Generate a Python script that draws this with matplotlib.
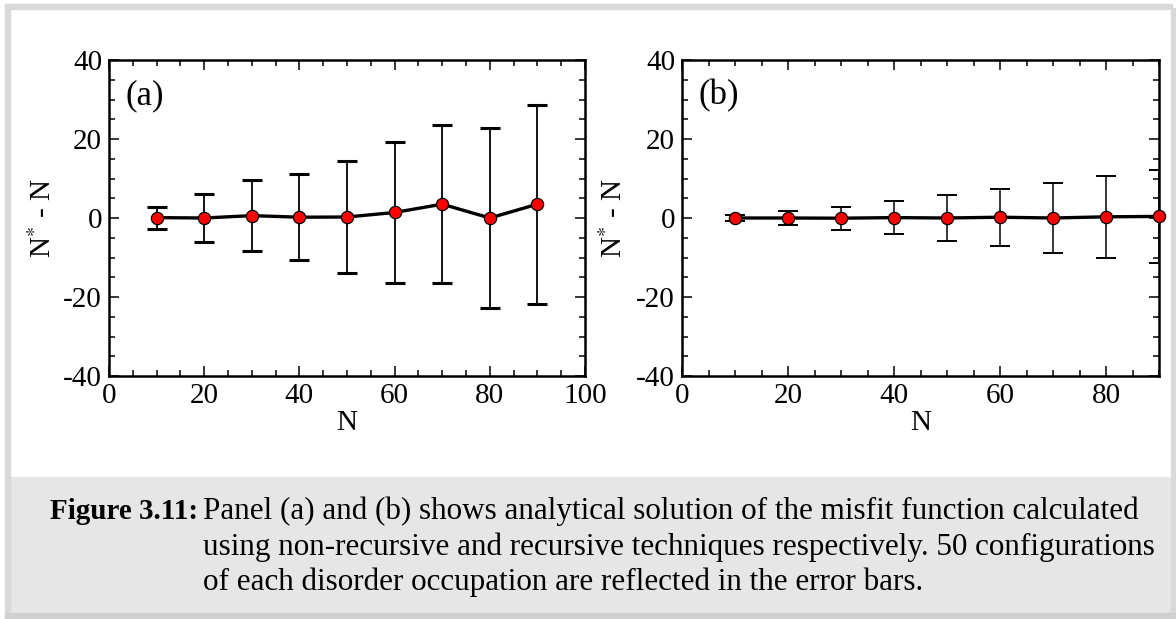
import matplotlib
matplotlib.use("Agg")
import matplotlib.pyplot as plt
from matplotlib.patches import Rectangle
from matplotlib.ticker import MultipleLocator

# values
n_vals = [10, 20, 30, 40, 50, 60, 70, 80, 90]
misfit_a = [0.1, 0.0, 0.6, 0.2, 0.25, 1.4, 3.5, 0.0, 3.5]
err_a = [2.8, 6.0, 8.9, 10.9, 14.1, 17.9, 20.0, 22.8, 25.2]
misfit_b = [0.0, 0.0, -0.05, 0.1, 0.0, 0.2, 0.0, 0.3, 0.4]
err_b = [0.7, 1.7, 2.9, 4.2, 5.8, 7.2, 8.85, 10.3, 11.7]

panel_labels = ["(a)", "(b)"]
xlims = [(0, 100), (0, 90)]
caption_head = "Figure 3.11:"
caption_lines = [
    "Panel (a) and (b) shows analytical solution of the misfit function calculated",
    "using non-recursive and recursive techniques respectively. 50 configurations",
    "of each disorder occupation are reflected in the error bars.",
]

plt.rcParams["font.family"] = ["Liberation Serif", "DejaVu Serif"]
plt.rcParams["mathtext.fontset"] = "stix"
plt.rcParams["axes.unicode_minus"] = False

W, H = 1176, 619
fig = plt.figure(figsize=(W / 100, H / 100), dpi=100)


def fx(px):
    return px / W


def fy(py):
    return 1 - py / H


# frame and caption box
fig.patches.append(Rectangle((fx(10), fy(613)), fx(1161), (613 - 477) / H,
                             transform=fig.transFigure, color="#e6e6e6", zorder=0))
for x0, y0, x1, y1, c in [(5, 4, 1172, 9, "#d9d9d9"), (5, 4, 10, 619, "#d9d9d9"),
                          (1171, 8, 1176, 619, "#d9d9d9"), (5, 613, 1176, 619, "#d0d0d0")]:
    fig.patches.append(Rectangle((fx(x0), fy(y1)), fx(x1 - x0), (y1 - y0) / H,
                                 transform=fig.transFigure, color=c, zorder=0))

ax_a = fig.add_axes([fx(109), fy(376), fx(585 - 109), (376 - 60) / H])
ax_b = fig.add_axes([fx(682), fy(376), fx(1159 - 682), (376 - 60) / H])

styles = [dict(elinewidth=1.3, capthick=2.2), dict(elinewidth=1.1, capthick=1.4)]
label_x = [-0.11, -0.113]
for ax, y, e, lab, xl, st, lx in zip([ax_a, ax_b], [misfit_a, misfit_b], [err_a, err_b],
                                     panel_labels, xlims, styles, label_x):
    ax.errorbar(n_vals, y, yerr=e, fmt="none", ecolor="black", capsize=7, zorder=2, **st)
    ax.plot(n_vals, y, color="black", lw=2.4, zorder=3)
    ax.plot(n_vals, y, "o", ms=8.8, mfc="#ff0000", mec="black", mew=0.9,
            zorder=4, clip_on=False)
    ax.set_xlim(*xl)
    ax.set_ylim(-40, 40)
    ax.xaxis.set_major_locator(MultipleLocator(20))
    ax.xaxis.set_minor_locator(MultipleLocator(5))
    ax.yaxis.set_major_locator(MultipleLocator(20))
    ax.yaxis.set_minor_locator(MultipleLocator(5))
    ax.tick_params(which="both", direction="in", top=True, right=True,
                   labelsize=21, width=1.1, pad=5)
    ax.tick_params(which="major", length=7.2)
    ax.tick_params(which="minor", length=4.3)
    for sp in ax.spines.values():
        sp.set_linewidth(1.8)
    ax.set_xlabel("N", fontsize=21, labelpad=1)
    ax.set_ylabel(r"N$^{*}$ - N", fontsize=21)
    ax.yaxis.set_label_coords(lx, 0.5)
    ax.text(0.034, 0.888, lab, transform=ax.transAxes, fontsize=25, va="center", ha="left")

fs = 22.4
fig.text(fx(198), fy(519), caption_head, fontsize=21, fontweight="bold",
         va="baseline", ha="right")
for i, line in enumerate(caption_lines):
    fig.text(fx(203), fy(519 + 35.5 * i), line, fontsize=fs, va="baseline")

fig.savefig("out.png", dpi=100)
